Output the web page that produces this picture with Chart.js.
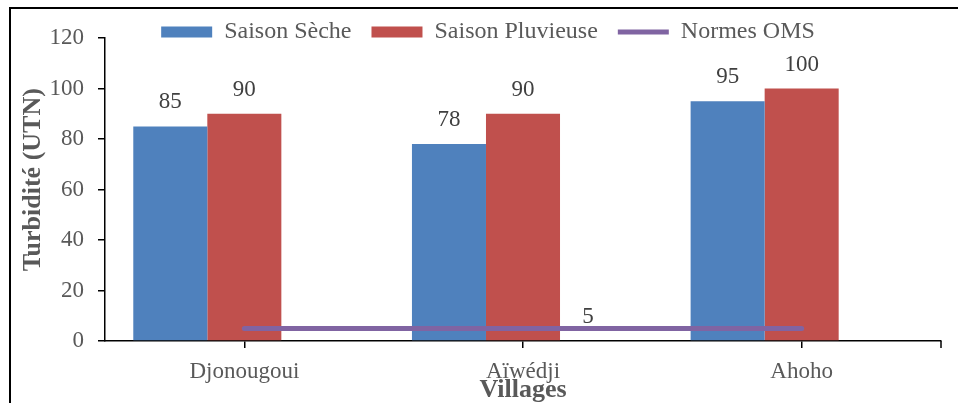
<!DOCTYPE html>
<html>
<head>
  <meta charset="UTF-8">
  <title>Turbidité par village</title>
  <script src="https://cdn.jsdelivr.net/npm/chart.js"></script>
  <style>
    html, body {
      margin: 0;
      padding: 0;
      background: #ffffff;
    }
    #chartBox {
      width: 958px;
      height: 403px;
    }
  </style>
</head>
<body>

<div id="chartBox">
  <canvas id="turbChart" width="958" height="403"></canvas>
</div>

<script>
  // données
  const villages = ['Djonougoui', 'Aïwédji', 'Ahoho'];
  const saisonSeche = [85, 78, 95];
  const saisonPluvieuse = [90, 90, 100];
  const normesOMS = [5, 5, 5];
  const seriesNames = ['Saison Sèche', 'Saison Pluvieuse', 'Normes OMS'];
  const yMin = 0, yMax = 120, yStep = 20;

  const serif = "'Liberation Serif', 'Times New Roman', serif";
  const grey = '#595959';

  // cadre noir (haut et gauche) + petite graduation en bout d'axe X
  const framePlugin = {
    id: 'frame',
    afterDraw(chart) {
      const ctx = chart.ctx;
      const area = chart.chartArea;
      ctx.save();
      ctx.strokeStyle = '#000';
      ctx.lineWidth = 2;
      ctx.beginPath();
      ctx.moveTo(958, 8);
      ctx.lineTo(10, 8);
      ctx.lineTo(10, 403);
      ctx.stroke();
      ctx.lineWidth = 1.5;
      ctx.beginPath();
      ctx.moveTo(area.right, area.bottom);
      ctx.lineTo(area.right, area.bottom + 7);
      ctx.stroke();
      ctx.restore();
    }
  };

  // étiquettes de valeurs
  const valueLabels = {
    id: 'valueLabels',
    afterDatasetsDraw(chart) {
      const ctx = chart.ctx;
      ctx.save();
      ctx.font = '23px ' + serif;
      ctx.fillStyle = '#404040';
      ctx.textAlign = 'center';
      ctx.textBaseline = 'middle';
      [0, 1].forEach(di => {
        chart.getDatasetMeta(di).data.forEach((bar, i) => {
          ctx.fillText(chart.data.datasets[di].data[i], bar.x, bar.y - 24);
        });
      });
      // valeur de la norme, seulement au point du milieu
      const pt = chart.getDatasetMeta(3).data[1];
      ctx.fillText(chart.data.datasets[3].data[1], pt.x + 65, pt.y - 11);
      ctx.restore();
    }
  };

  document.addEventListener("DOMContentLoaded", function () {
    const ctx = document.getElementById('turbChart').getContext('2d');

    new Chart(ctx, {
      type: 'bar',
      data: {
        labels: villages,
        datasets: [
          {
            label: seriesNames[0],
            data: saisonSeche,
            backgroundColor: '#4F81BD',
            order: 1,
            pointStyle: 'rect'
          },
          {
            label: seriesNames[1],
            data: saisonPluvieuse,
            backgroundColor: '#C0504D',
            order: 1,
            pointStyle: 'rect'
          },
          {
            // série vide : réserve la 3e place du groupe comme dans Excel
            label: '',
            data: [null, null, null],
            backgroundColor: 'rgba(0,0,0,0)',
            order: 1
          },
          {
            type: 'line',
            label: seriesNames[2],
            data: normesOMS,
            borderColor: '#8064A2',
            backgroundColor: '#8064A2',
            borderWidth: 5,
            borderCapStyle: 'round',
            pointRadius: 0,
            pointStyle: 'line',
            order: 0
          }
        ]
      },
      options: {
        responsive: false,
        animation: false,
        layout: {
          padding: { top: 0, right: 17, left: 35, bottom: 0 }
        },
        datasets: {
          bar: {
            categoryPercentage: 0.797,
            barPercentage: 1.0
          }
        },
        plugins: {
          legend: {
            position: 'top',
            maxHeight: 38,
            labels: {
              usePointStyle: true,
              pointStyleWidth: 51,
              boxHeight: 11,
              padding: 20,
              color: grey,
              font: { family: serif, size: 24 },
              filter: item => item.text !== '',
              sort: (a, b) => a.datasetIndex - b.datasetIndex
            }
          },
          tooltip: { enabled: false }
        },
        scales: {
          x: {
            offset: true,
            grid: {
              offset: false,
              drawOnChartArea: false,
              drawTicks: true,
              tickLength: 7,
              color: '#000',
              lineWidth: 1.5
            },
            border: { color: '#000', width: 1.5 },
            ticks: {
              color: grey,
              padding: 10,
              font: { family: serif, size: 23 }
            },
            title: {
              display: true,
              text: 'Villages',
              color: grey,
              padding: { top: 0, bottom: -3 },
              font: { family: serif, size: 26, weight: 'bold' }
            },
            afterFit(scale) { scale.height = 62; }
          },
          y: {
            min: yMin,
            max: yMax,
            grid: {
              drawOnChartArea: false,
              drawTicks: true,
              tickLength: 7,
              color: '#000',
              lineWidth: 1.5
            },
            border: { color: '#000', width: 1.5 },
            ticks: {
              stepSize: yStep,
              color: grey,
              padding: 14,
              font: { family: serif, size: 23 }
            },
            title: {
              display: true,
              // espaces en tête : le titre est un peu au-dessus du centre de l'axe
              text: '   Turbidité (UTN)',
              color: grey,
              padding: { top: -17.6, bottom: 0 },
              font: { family: serif, size: 26, weight: 'bold' }
            },
            afterFit(scale) { scale.width = 70; }
          }
        }
      },
      plugins: [framePlugin, valueLabels]
    });
  });
</script>

</body>
</html>
